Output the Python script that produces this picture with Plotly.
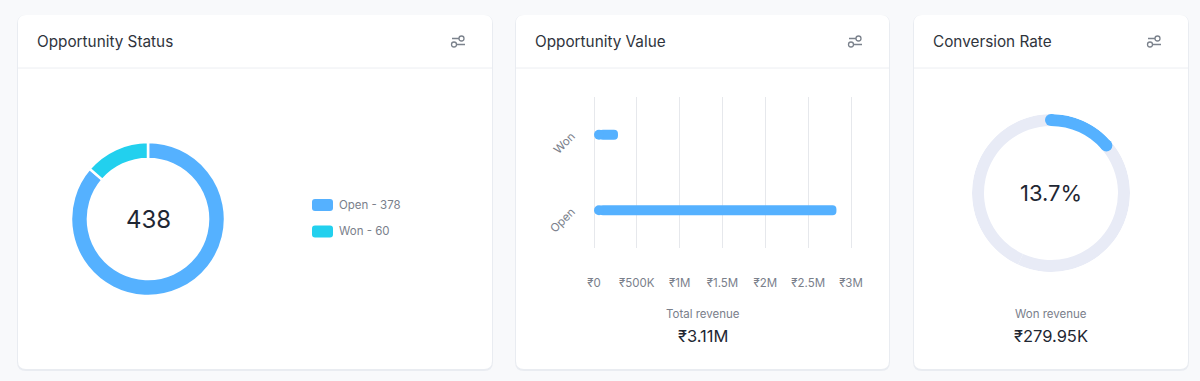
import plotly.graph_objects as go

W, H = 1200, 381

status_labels = ["Open", "Won"]
status_counts = [378, 60]
revenue_labels = ["Open", "Won"]
revenue_values = [2830000, 279950]
revenue_ticks = [0, 500000, 1000000, 1500000, 2000000, 2500000, 3000000]
revenue_tick_labels = ["₹0", "₹500K", "₹1M", "₹1.5M", "₹2M", "₹2.5M", "₹3M"]
card_titles = ["Opportunity Status", "Opportunity Value", "Conversion Rate"]
total_revenue_text = "₹3.11M"
won_revenue_text = "₹279.95K"

BLUE = "#55b1ff"
CYAN = "#22d0ee"
TRACK = "#e8ebf6"
FONT = "Inter"
DARK = "#1f2733"
GREY = "#7a808b"


def px(x):
    return x / W


def py(y):
    return 1 - y / H


def rrect(x0, y0, x1, y1, r):
    X0, X1, Y0, Y1 = px(x0), px(x1), py(y0), py(y1)
    rx, ry = r / W, r / H
    return (
        f"M{X0 + rx},{Y0} L{X1 - rx},{Y0} Q{X1},{Y0} {X1},{Y0 - ry} "
        f"L{X1},{Y1 + ry} Q{X1},{Y1} {X1 - rx},{Y1} L{X0 + rx},{Y1} "
        f"Q{X0},{Y1} {X0},{Y1 + ry} L{X0},{Y0 - ry} Q{X0},{Y0} {X0 + rx},{Y0} Z"
    )


shapes = []
annotations = []


def label(x, y, text, size, color, anchor="center", family=FONT):
    annotations.append(dict(
        x=px(x), y=py(y), xref="paper", yref="paper", text=text, showarrow=False,
        xanchor=anchor, yanchor="middle", align=anchor, borderpad=0, borderwidth=0,
        font=dict(family=family, size=size, color=color),
    ))


cards = [(18, 15, 492, 369), (516, 15, 889, 369), (914, 15, 1188, 369)]
for (x0, y0, x1, y1), title in zip(cards, card_titles):
    shapes.append(dict(type="path", path=rrect(x0 - 1, y0, x1 + 1, y1 + 2, 9), xref="paper", yref="paper",
                       fillcolor="#e9ecf1", line=dict(width=0), layer="below"))
    shapes.append(dict(type="path", path=rrect(x0, y0, x1, y1, 8), xref="paper", yref="paper",
                       fillcolor="#ffffff", line=dict(width=0), layer="below"))
    shapes.append(dict(type="line", x0=px(x0), x1=px(x1), y0=py(68), y1=py(68), xref="paper", yref="paper",
                       line=dict(color="#eceef2", width=1), layer="below"))
    label(x0 + 18.5, 41.5, title, 15.3, "#2f343c", "left")
    # filter icon at the card's top right
    ix = x1 - 34
    for ly, lx0, lx1, cx in [(38.5, ix - 6, ix + 1, ix + 3.5), (44.5, ix - 1, ix + 7, ix - 4)]:
        shapes.append(dict(type="line", x0=px(lx0), x1=px(lx1), y0=py(ly), y1=py(ly), xref="paper", yref="paper",
                           line=dict(color="#7b828c", width=1.5), layer="below"))
        shapes.append(dict(type="circle", x0=px(cx - 2.5), x1=px(cx + 2.5), y0=py(ly + 2.5), y1=py(ly - 2.5),
                           xref="paper", yref="paper", fillcolor="#ffffff",
                           line=dict(color="#7b828c", width=1.3), layer="below"))

fig = go.Figure()

# Donut: Opportunity Status
fig.add_trace(go.Pie(
    labels=status_labels, values=status_counts, hole=0.78, sort=False, direction="clockwise",
    rotation=0, textinfo="none", showlegend=False,
    marker=dict(colors=[BLUE, CYAN], line=dict(color="#ffffff", width=2.5)),
    domain=dict(x=[px(71), px(225)], y=[py(296), py(142)]),
))
label(148, 219, str(sum(status_counts)), 24, DARK)

for name, count, color, y in zip(status_labels, status_counts, [BLUE, CYAN], [205, 231.5]):
    shapes.append(dict(type="path", path=rrect(312, y - 6, 333, y + 6, 3), xref="paper", yref="paper",
                       fillcolor=color, line=dict(width=0), layer="below"))
    label(339, y, f"{name} - {count}", 11.5, GREY, "left")

# Bars: Opportunity Value. The left cap is a marker, so the bar starts one cap radius in.
per_px = 3000000 / 257
cap = 5 * per_px
fig.add_trace(go.Bar(
    x=[v - cap for v in revenue_values], base=[cap] * len(revenue_values), y=revenue_labels, orientation="h",
    marker=dict(color=BLUE, line=dict(width=0)), showlegend=False, xaxis="x", yaxis="y",
))
fig.add_trace(go.Scatter(
    x=[cap] * len(revenue_labels), y=revenue_labels, mode="markers",
    marker=dict(color=BLUE, size=10, line=dict(width=0)), showlegend=False, xaxis="x", yaxis="y",
))
label(703, 314, "Total revenue", 11.5, GREY)
label(703, 336, total_revenue_text, 16.5, DARK)

# Gauge: Conversion Rate
rate = status_counts[1] / sum(status_counts)
sweep = rate * 360
inner, outer = 67 / 79, 1.0
fig.add_trace(go.Barpolar(
    r=[outer - inner] * 2, base=[inner] * 2,
    theta=[sweep + (360 - sweep) / 4, sweep + (360 - sweep) * 3 / 4],
    width=[(360 - sweep) / 2] * 2,
    marker=dict(color=TRACK, line=dict(width=0)), showlegend=False, subplot="polar",
))
fig.add_trace(go.Barpolar(
    r=[outer - inner], base=[inner], theta=[sweep / 2], width=[sweep],
    marker=dict(color=BLUE, line=dict(width=0)), showlegend=False, subplot="polar",
))
fig.add_trace(go.Scatterpolar(
    r=[(outer + inner) / 2] * 2, theta=[0, sweep], mode="markers",
    marker=dict(color=BLUE, size=12, line=dict(width=0)), showlegend=False, subplot="polar",
))
label(1051, 193, f"{rate:.1%}", 22, DARK)
label(1051, 314, "Won revenue", 11.5, GREY)
label(1051, 336, won_revenue_text, 16.5, DARK)

fig.update_layout(
    width=W, height=H, autosize=False,
    margin=dict(l=0, r=0, t=0, b=0, pad=0, autoexpand=False),
    paper_bgcolor="#f8f9fb", plot_bgcolor="rgba(0,0,0,0)",
    font=dict(family=FONT, color=GREY),
    shapes=shapes, annotations=annotations,
    bargap=0.868, barcornerradius=5,
    xaxis=dict(
        domain=[px(592), px(853)], range=[-2 * per_px, 3000000 + 2 * per_px],
        tickvals=revenue_ticks, ticktext=revenue_tick_labels,
        showgrid=True, gridcolor="#e6e8ec", gridwidth=1,
        zeroline=True, zerolinecolor="#e6e8ec", zerolinewidth=1, showline=False,
        ticks="outside", ticklen=24, tickcolor="rgba(0,0,0,0)", tickfont=dict(size=11.5, color=GREY),
        anchor="y",
    ),
    yaxis=dict(
        domain=[py(248), py(97)], type="category", categoryorder="array", categoryarray=revenue_labels,
        range=[-0.5, 1.5], showgrid=False, zeroline=False, showline=False,
        ticks="outside", ticklen=17, tickcolor="rgba(0,0,0,0)", tickangle=-45,
        tickfont=dict(size=11.5, color=GREY), anchor="x",
    ),
    polar=dict(
        domain=dict(x=[px(972), px(1130)], y=[py(272), py(114)]),
        bgcolor="rgba(0,0,0,0)", barmode="overlay",
        radialaxis=dict(visible=False, range=[0, 1]),
        angularaxis=dict(visible=False, direction="clockwise", rotation=90),
    ),
)

fig.write_html("out.html", config={"displayModeBar": False},
               post_script="document.body.style.margin='0';document.body.style.background='#f8f9fb';")
